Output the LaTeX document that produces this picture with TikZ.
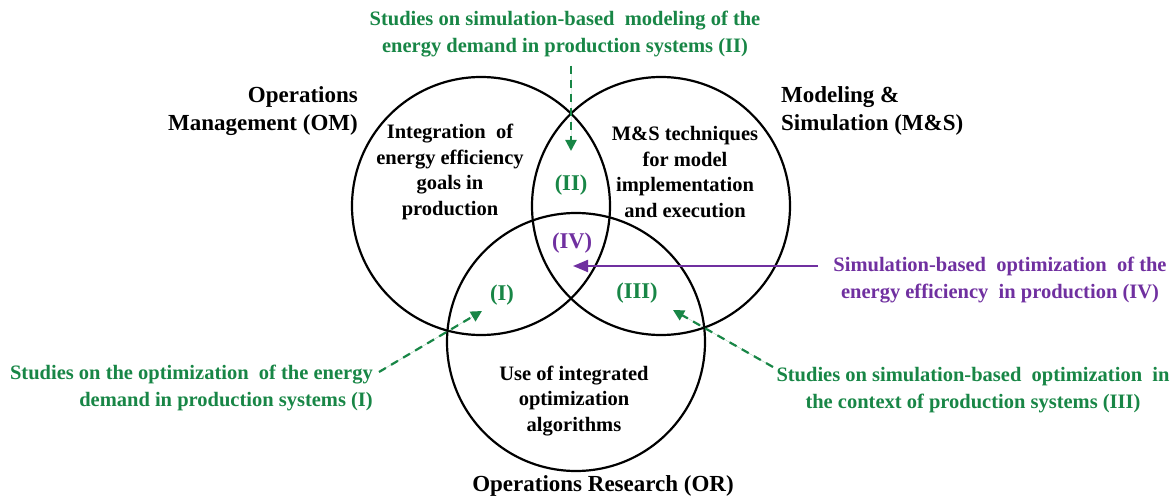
\documentclass[tikz,border=0pt]{standalone}
\usepackage{fontspec}
\setmainfont{Liberation Serif}
\usetikzlibrary{arrows.meta}
\definecolor{studygreen}{RGB}{24,134,70}
\definecolor{sopurple}{RGB}{112,48,160}
\begin{document}
\begin{tikzpicture}[x=1pt,y=-1pt,
  field/.style={circle,draw=black,line width=2.2pt,minimum size=258pt,inner sep=0pt},
  fieldname/.style={font=\bfseries\fontsize{23}{28}\selectfont,text=black,inner sep=0pt},
  fieldtext/.style={font=\bfseries\fontsize{20.5}{25.5}\selectfont,text=black,align=center,inner sep=0pt},
  region/.style={font=\bfseries\fontsize{22.5}{26}\selectfont,inner sep=0pt},
  study/.style={font=\bfseries\fontsize{20.5}{26.5}\selectfont,text=studygreen,inner sep=0pt},
  studylink/.style={draw=studygreen,line width=2.2pt,dash pattern=on 8pt off 6pt,
    -{Triangle[length=11pt,width=11pt]},fill=studygreen},
  solink/.style={draw=sopurple,line width=2pt,-{Triangle[length=15pt,width=12pt]}}]
\useasboundingbox (0,0) rectangle (1173,500);

% the three fields
\node[field] (om) at (481,206) {};
\node[field] (ms) at (661,206) {};
\node[field] (or) at (576,342) {};

% field names
\node[fieldname,anchor=east,align=right] (omname) at (358,111) {Operations\\Management (OM)};
\node[fieldname,anchor=west,align=left] (msname) at (781,111) {Modeling \&\\Simulation (M\&S)};
\node[fieldname] (orname) at (603,486) {Operations Research (OR)};

% contents of each field
\node[fieldtext] (omtext) at (450,172) {Integration\ \ of\\energy efficiency\\goals in\\production};
\node[fieldtext] (mstext) at (685,172) {M\&S techniques\\for model\\implementation\\and execution};
\node[fieldtext] (ortext) at (574,401) {Use of integrated\\optimization\\algorithms};

% overlap regions
\node[region,text=studygreen] (rII) at (571,185) {(II)};
\node[region,text=sopurple] (rIV) at (572,243) {(IV)};
\node[region,text=studygreen] (rI) at (502,295) {(I)};
\node[region,text=studygreen] (rIII) at (637,293) {(III)};

% study groups
\node[study,align=center] (sII) at (565,34) {Studies on simulation-based\ \ modeling of the\\energy demand in production systems (II)};
\node[study,align=right,anchor=east] (sI) at (373,388) {Studies on the optimization\ \ of the energy\\demand in production systems (I)};
\node[study,align=center] (sIII) at (973,390) {Studies on simulation-based\ \ optimization\ \ in\\the context of production systems (III)};
\node[study,align=center,text=sopurple] (sIV) at (1000,280) {Simulation-based\ \ optimization\ \ of the\\energy efficiency\ \ in production (IV)};

% connector ends
\coordinate (IIfrom) at (571,66);
\coordinate (IIto) at (571,151);
\coordinate (Ifrom) at (379,372);
\coordinate (Ito) at (482,311);
\coordinate (IIIfrom) at (773,367);
\coordinate (IIIto) at (673,310);
\coordinate (IVfrom) at (818,266);
\coordinate (IVto) at (573,266);

\draw[studylink] (IIfrom) -- (IIto);
\draw[studylink] (Ifrom) -- (Ito);
\draw[studylink] (IIIfrom) -- (IIIto);
\draw[solink] (IVfrom) -- (IVto);
\end{tikzpicture}
\end{document}
